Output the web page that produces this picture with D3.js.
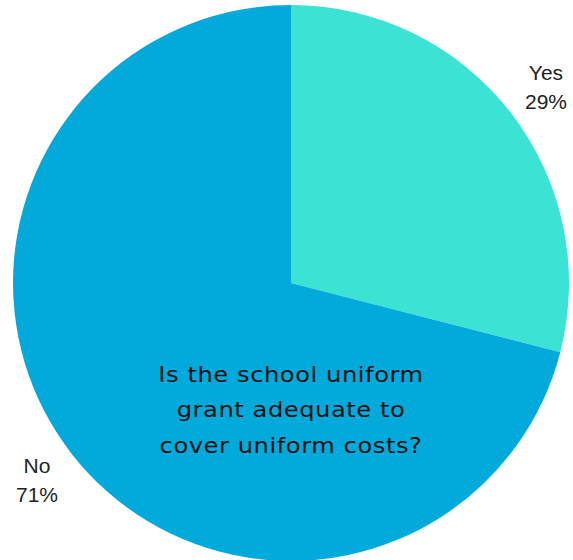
<!DOCTYPE html>
<html>
<head>
<meta charset="utf-8">
<script src="https://cdn.jsdelivr.net/npm/d3@7"></script>
<style>
  html, body { margin: 0; padding: 0; background: #ffffff; }
  svg { display: block; }
</style>
</head>
<body>
<svg id="chart" width="573" height="560"></svg>
<script>
// Survey answers and their shares (percent)
const categories = ["Yes", "No"];
const values = [29, 71];
const colors = ["#3be3d5", "#02aadb"];
const questionLines = ["Is the school uniform", "grant adequate to", "cover uniform costs?"];

const svg = d3.select("#chart");
const cx = 291, cy = 283, radius = 278;

const pie = d3.pie().sort(null).value(d => d.value);
const arcs = pie(categories.map((c, i) => ({ category: c, value: values[i] })));
const arc = d3.arc().innerRadius(0).outerRadius(radius);
const color = d3.scaleOrdinal().domain(categories).range(colors);

const g = svg.append("g").attr("transform", `translate(${cx},${cy})`);

g.selectAll("path.slice")
  .data(arcs)
  .join("path")
  .attr("class", "slice")
  .attr("d", arc)
  .attr("fill", d => color(d.data.category));

// Outside labels beside each slice
const labelPos = {
  Yes: { x: 546, y: 80 },
  No: { x: 37, y: 473 }
};
arcs.forEach(d => {
  const p = labelPos[d.data.category];
  const t = svg.append("text")
    .attr("text-anchor", "middle")
    .style("font-family", "'Liberation Sans', Arial, sans-serif")
    .style("font-size", "21px")
    .attr("fill", "#222");
  t.append("tspan").attr("x", p.x).attr("y", p.y).text(d.data.category);
  t.append("tspan").attr("x", p.x).attr("y", p.y + 29).text(d.data.value + "%");
});

// Question text on the larger slice, set in a wide geometric style
const sx = 1.15;
const q = svg.append("text")
  .attr("text-anchor", "middle")
  .attr("transform", `translate(${cx},0) scale(${sx},1)`)
  .style("font-family", "'DejaVu Sans', sans-serif")
  .style("font-size", "21px")
  .style("letter-spacing", "0.5px")
  .attr("fill", "#111");
questionLines.forEach((line, i) => {
  q.append("tspan").attr("x", 0).attr("y", 382 + i * 35.5).text(line);
});
</script>
</body>
</html>
